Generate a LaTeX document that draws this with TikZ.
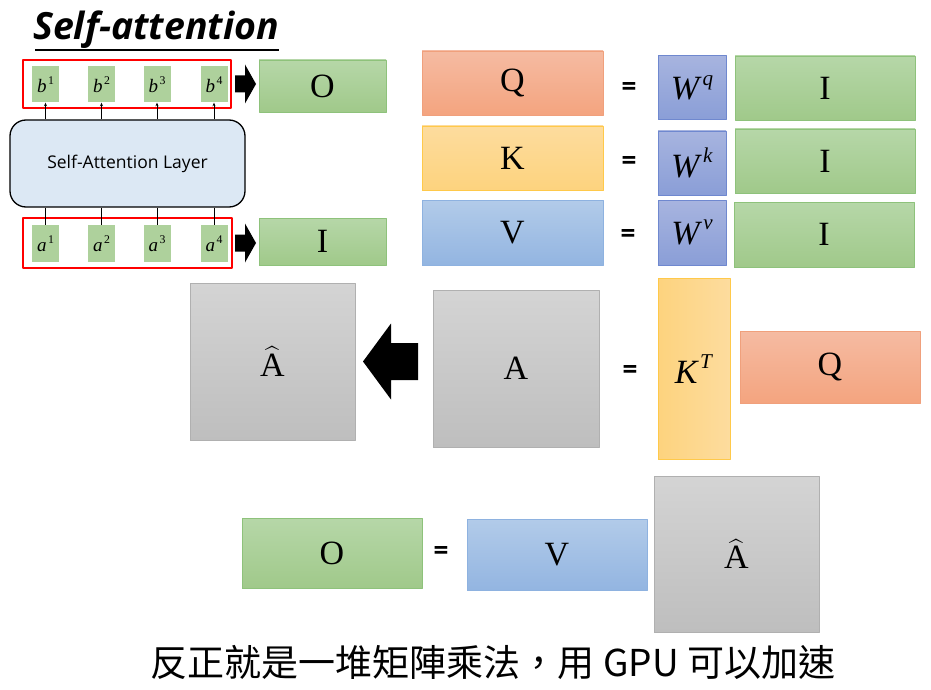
\documentclass[tikz,border=0pt]{standalone}
\usepackage{amsmath}
\usepackage{fontspec}
\setmainfont{Liberation Serif}
\setsansfont{Open Sans}
\newfontfamily\cjkfont{Noto Sans CJK TC}
\usetikzlibrary{positioning,arrows.meta}

\definecolor{qtop}{HTML}{F5BBA2}
\definecolor{qbot}{HTML}{F4A47F}
\definecolor{qline}{HTML}{F0A07C}
\definecolor{ktop}{HTML}{FDDC9E}
\definecolor{kbot}{HTML}{FDD37E}
\definecolor{kline}{HTML}{FFC94A}
\definecolor{vtop}{HTML}{B2CBE9}
\definecolor{vbot}{HTML}{93B5E1}
\definecolor{vline}{HTML}{8EB2E0}
\definecolor{wtop}{HTML}{A7B4DF}
\definecolor{wbot}{HTML}{8A9ED7}
\definecolor{wline}{HTML}{6F88CF}
\definecolor{gtop}{HTML}{B6D7A8}
\definecolor{gbot}{HTML}{A0C98A}
\definecolor{gline}{HTML}{8EC27B}
\definecolor{atop}{HTML}{D4D4D4}
\definecolor{abot}{HTML}{BEBEBE}
\definecolor{aline}{HTML}{B0B0B0}
\definecolor{layerfill}{HTML}{DCE8F4}
\definecolor{redbox}{HTML}{FF0000}

\newcommand{\bigletter}{\fontsize{34}{34}\selectfont}
\newcommand{\eqsize}{\sffamily\bfseries\fontsize{26}{26}\selectfont}
% italic letter with a raised italic index
\newcommand{\supl}[2]{\textit{#1}\raisebox{0.42em}{\kern1pt\fontsize{0.62em}{0.62em}\selectfont\textit{#2}}}
% italic letter with a raised upright number
\newcommand{\supn}[2]{\textit{#1}\raisebox{0.42em}{\kern1.5pt\fontsize{0.62em}{0.62em}\selectfont #2}}
\newcommand{\ahat}{$\widehat{\text{A}}$}

\tikzset{
  sz/.style 2 args={minimum width=#1pt, minimum height=#2pt},
  mat/.style={inner sep=0pt, line width=0.8pt, font=\bigletter},
  qmat/.style={mat, draw=qline, top color=qtop, bottom color=qbot},
  kmat/.style={mat, draw=kline, top color=ktop, bottom color=kbot},
  vmat/.style={mat, draw=vline, top color=vtop, bottom color=vbot},
  wmat/.style={mat, draw=wline, top color=wtop, bottom color=wbot},
  imat/.style={mat, draw=gline, top color=gtop, bottom color=gbot},
  amat/.style={mat, draw=aline, top color=atop, bottom color=abot},
  vec/.style={inner sep=0pt, fill=gbot!85!white, sz={27}{36}, font=\fontsize{19}{19}\selectfont},
  eqsign/.style={inner sep=0pt, font=\eqsize},
  redframe/.style={draw=redbox, line width=2.6pt, sz={208}{48}},
}

\begin{document}
\begin{tikzpicture}[x=1pt, y=-1pt, line join=round, >={Stealth[length=3.5pt,width=3pt]}]
  \useasboundingbox (0,0) rectangle (931,690);

  % title
  \node[anchor=base west, inner sep=0pt, font=\sffamily\bfseries\itshape\fontsize{37.5}{37.5}\selectfont] (title) at (33,40) {Self-attention};
  \draw[line width=1.2pt] (35,50) -- (title.east |- 0,50);

  % self-attention layer
  \node[draw, line width=1.3pt, rounded corners=16pt, fill=layerfill, sz={235}{87}, font=\sffamily\fontsize{17.5}{17.5}\selectfont] (layer) at (127.5,163.5) {Self-Attention Layer};

  \node[redframe] (outframe) at (127,84) {};
  \node[redframe, sz={209}{50}] (inframe) at (127.5,243) {};

  \foreach \i/\x in {1/45.5,2/101.5,3/157,4/214}{
    \node[vec] (b\i) at (\x,84.5) {\supn{b}{\i}};
    \node[vec, sz={27}{37}] (a\i) at (\x,243.5) {\supn{a}{\i}};
    \draw[->, line width=0.6pt] (b\i |- layer.north) -- (b\i.south);
    \draw[line width=0.6pt] (a\i.north) -- (a\i |- layer.south);
  }

  % block arrows to O and I
  \fill (235,84) ++(0,-8.5) -- ++(10,0) -- ++(0,-11) -- (256,84) -- (245,103.5) -- ++(0,-11) -- ++(-10,0) -- cycle;
  \fill (235,243) ++(0,-8.5) -- ++(10,0) -- ++(0,-11) -- (256,243) -- (245,262.5) -- ++(0,-11) -- ++(-10,0) -- cycle;

  \node[imat, sz={127}{52}] (O1) at (322.5,86) {O};
  \node[imat, sz={127}{47}] (I0) at (322.5,241.5) {I};

  % Q K V
  \node[qmat, sz={181}{64}] (Q) at (512.5,83) {Q};
  \node[eqsign] (eq1) at (629,89) {=};
  \node[wmat, sz={68}{64}] (Wq) at (692,87.5) {\supl{W}{q}};
  \node[imat, sz={180}{64}] (I1) at (825,88) {I};

  \node[kmat, sz={181}{64}] (K) at (512.5,158) {K};
  \node[eqsign] (eq2) at (629,163) {=};
  \node[wmat, sz={68}{64}] (Wk) at (692,163) {\supl{W}{k}};
  \node[imat, sz={180}{64}] (I2) at (825,161) {I};

  \node[vmat, sz={181}{65}] (V) at (512.5,232.5) {V};
  \node[eqsign] (eq3) at (628,236) {=};
  \node[wmat, sz={68}{65}] (Wv) at (692,232.5) {\supl{W}{v}};
  \node[imat, sz={180}{65}] (I3) at (824,234.5) {I};

  % attention matrix
  \node[amat, sz={165}{157}] (Ahat) at (272.5,361.5) {\ahat};
  \fill (363,361.5) -- (391,323.5) -- (391,343) -- (418,343) -- (418,380) -- (391,380) -- (391,399.5) -- cycle;
  \node[amat, sz={166}{157}] (A) at (516,368.5) {A};
  \node[eqsign] (eq4) at (630,372) {=};
  \node[mat, draw=kline, left color=kbot, right color=ktop, sz={72}{181}] (KT) at (694,369) {\supl{K}{T}};
  \node[qmat, sz={180}{72}] (Q2) at (830,367) {Q};

  % output
  \node[imat, sz={180}{70}] (O2) at (332,553) {O};
  \node[eqsign] (eq5) at (441,553) {=};
  \node[vmat, sz={180}{71}] (V2) at (557,554.5) {V};
  \node[amat, sz={165}{156}] (Ahat2) at (736.5,554) {\ahat};

  \node[font=\cjkfont\fontsize{37}{37}\selectfont] (note) at (493,662) {反正就是一堆矩陣乘法，用 GPU 可以加速};
\end{tikzpicture}
\end{document}
